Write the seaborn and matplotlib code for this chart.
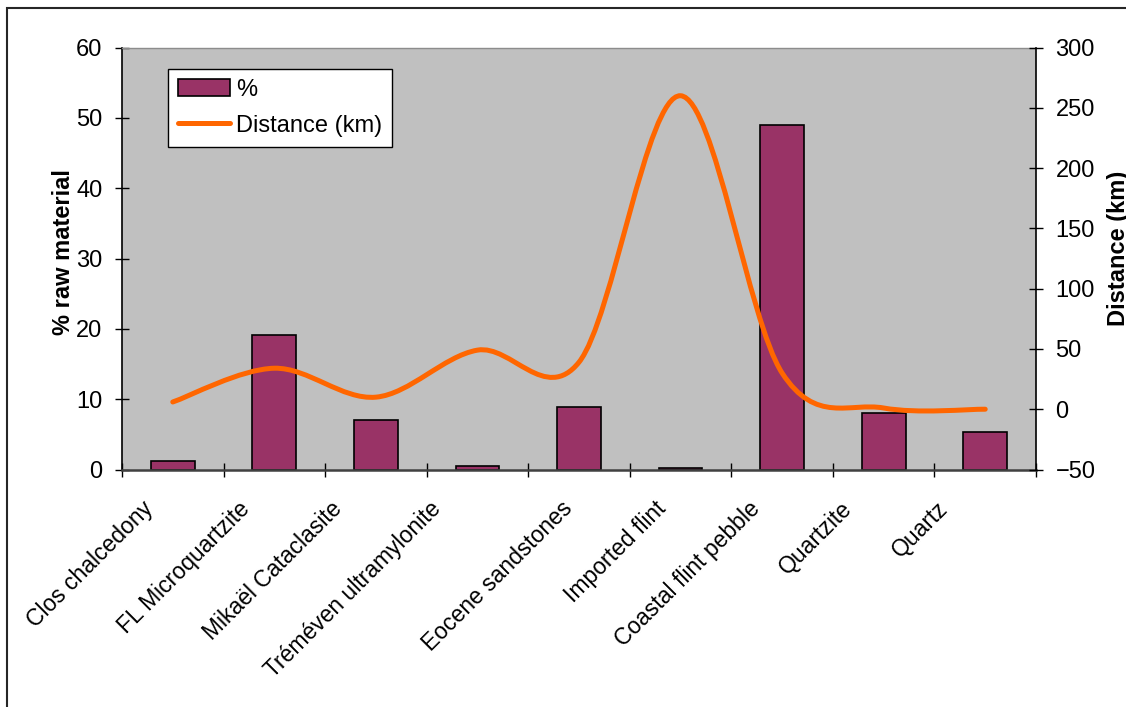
import numpy as np
import pandas as pd
import matplotlib
matplotlib.use('Agg')
import matplotlib.pyplot as plt
import seaborn as sns
from matplotlib.path import Path
from matplotlib.patches import PathPatch, Patch, Rectangle
from matplotlib.lines import Line2D
from matplotlib.transforms import ScaledTranslation

# values
materials = ['Clos chalcedony', 'FL Microquartzite', 'Mikaël Cataclasite',
             'Tréméven ultramylonite', 'Eocene sandstones', 'Imported flint',
             'Coastal flint pebble', 'Quartzite', 'Quartz']
percent = [1.2, 19.1, 7.0, 0.5, 8.9, 0.2, 49.0, 8.0, 5.4]
distance_km = [6, 34, 10, 49, 39, 260, 30, 1, 0]
left_ticks = [0, 10, 20, 30, 40, 50, 60]
right_ticks = [-50, 0, 50, 100, 150, 200, 250, 300]

# Excel nudges its rotated labels a little differently for each category (px)
label_shift_px = [-31, -36, -46, -48, -18, -26, -34, -43, -49]

BAR = '#993366'
LINE = '#ff6600'

sns.set_theme(style='white')
plt.rcParams['font.family'] = ['Liberation Sans', 'DejaVu Sans']

df = pd.DataFrame({'material': materials, 'percent': percent, 'distance': distance_km})

W, H = 1126, 707
fig = plt.figure(figsize=(W / 100, H / 100), dpi=100)
ax = fig.add_axes([122 / W, 1 - 469.5 / H, 914 / W, 422 / H])
ax.set_facecolor('#c0c0c0')

sns.barplot(data=df, x='material', y='percent', color=BAR, saturation=1,
            edgecolor='black', linewidth=1.2, width=0.43, ax=ax)

ax.set_xlim(-0.5, len(materials) - 0.5)
ax.set_ylim(0, 60)
ax.set_yticks(left_ticks)
ax.set_xlabel('')
ax.set_ylabel('% raw material', fontsize=17, fontweight='bold', color='black')
ax.yaxis.set_label_coords(-0.051, 0.515)

# category labels, rotated like Excel
ax.set_xticks(range(len(materials)), materials, rotation=45, ha='right',
              rotation_mode='anchor')
ax.set_xticks(np.arange(-0.5, len(materials), 1), minor=True)
ax.tick_params(axis='x', which='major', length=0, pad=20, labelsize=16.5,
               labelcolor='black', bottom=True)
ax.tick_params(axis='x', which='minor', direction='inout', length=10, width=1,
               color='black', bottom=True)
for lab, dx in zip(ax.get_xticklabels(), label_shift_px):
    lab.set_transform(lab.get_transform() +
                      ScaledTranslation(dx / 100, 0, fig.dpi_scale_trans))

ax.tick_params(axis='y', direction='inout', length=10, width=1, color='black',
               labelsize=17, labelcolor='black', pad=9, left=True)

for side in ['left', 'bottom', 'top', 'right']:
    ax.spines[side].set_visible(True)
ax.spines['left'].set_color('black')
ax.spines['left'].set_linewidth(1.2)
ax.spines['bottom'].set_color('#404040')
ax.spines['bottom'].set_linewidth(1.8)
ax.spines['top'].set_color('#8c8c8c')
ax.spines['top'].set_linewidth(1)
ax.spines['right'].set_visible(False)

# secondary axis with the smoothed distance line
ax2 = ax.twinx()
ax2.set_ylim(-50, 300)
ax2.set_yticks(right_ticks)
ax2.tick_params(axis='y', direction='inout', length=10, width=1, color='black',
                labelsize=17, labelcolor='black', pad=9, right=True)
ax2.set_ylabel('Distance (km)', fontsize=17, fontweight='bold', color='black',
               rotation=90)
ax2.yaxis.set_label_coords(1.0777, 0.525)
for side in ['left', 'bottom', 'top']:
    ax2.spines[side].set_visible(False)
ax2.spines['right'].set_visible(True)
ax2.spines['right'].set_color('black')
ax2.spines['right'].set_linewidth(1.2)

# Excel-style smoothing: Catmull-Rom expressed as cubic Bezier segments
pts = np.column_stack([np.arange(len(distance_km), dtype=float),
                       np.asarray(distance_km, dtype=float)])
padded = np.vstack([pts[0], pts, pts[-1]])
verts = [pts[0]]
codes = [Path.MOVETO]
for i in range(len(pts) - 1):
    p0, p1, p2, p3 = padded[i], padded[i + 1], padded[i + 2], padded[i + 3]
    verts += [p1 + (p2 - p0) / 6, p2 - (p3 - p1) / 6, p2]
    codes += [Path.CURVE4] * 3
curve = PathPatch(Path(verts, codes), fill=False, edgecolor=LINE, lw=3.6,
                  capstyle='round', joinstyle='round')
ax2.add_patch(curve)

handles = [Patch(facecolor=BAR, edgecolor='black', linewidth=1.2, label='%'),
           Line2D([], [], color=LINE, lw=3.6, solid_capstyle='round',
                  label='Distance (km)')]
leg = ax2.legend(handles=handles, loc='upper left', bbox_to_anchor=(0.0503, 0.949),
                 borderaxespad=0, frameon=True, fancybox=False, edgecolor='black',
                 framealpha=1, fontsize=17, borderpad=0.42, labelspacing=0.58,
                 handlelength=2.2, handletextpad=0.25)
leg.get_frame().set_linewidth(1.0)
for t in leg.get_texts():
    t.set_color('black')

# outer chart frame (right and bottom edges fall outside the image)
fig.patches.append(Rectangle((7 / W, -0.5), 2, 1.5 - 8 / H, transform=fig.transFigure,
                             fill=False, edgecolor='#262626', lw=1.5))

fig.savefig('out.png', dpi=100)
